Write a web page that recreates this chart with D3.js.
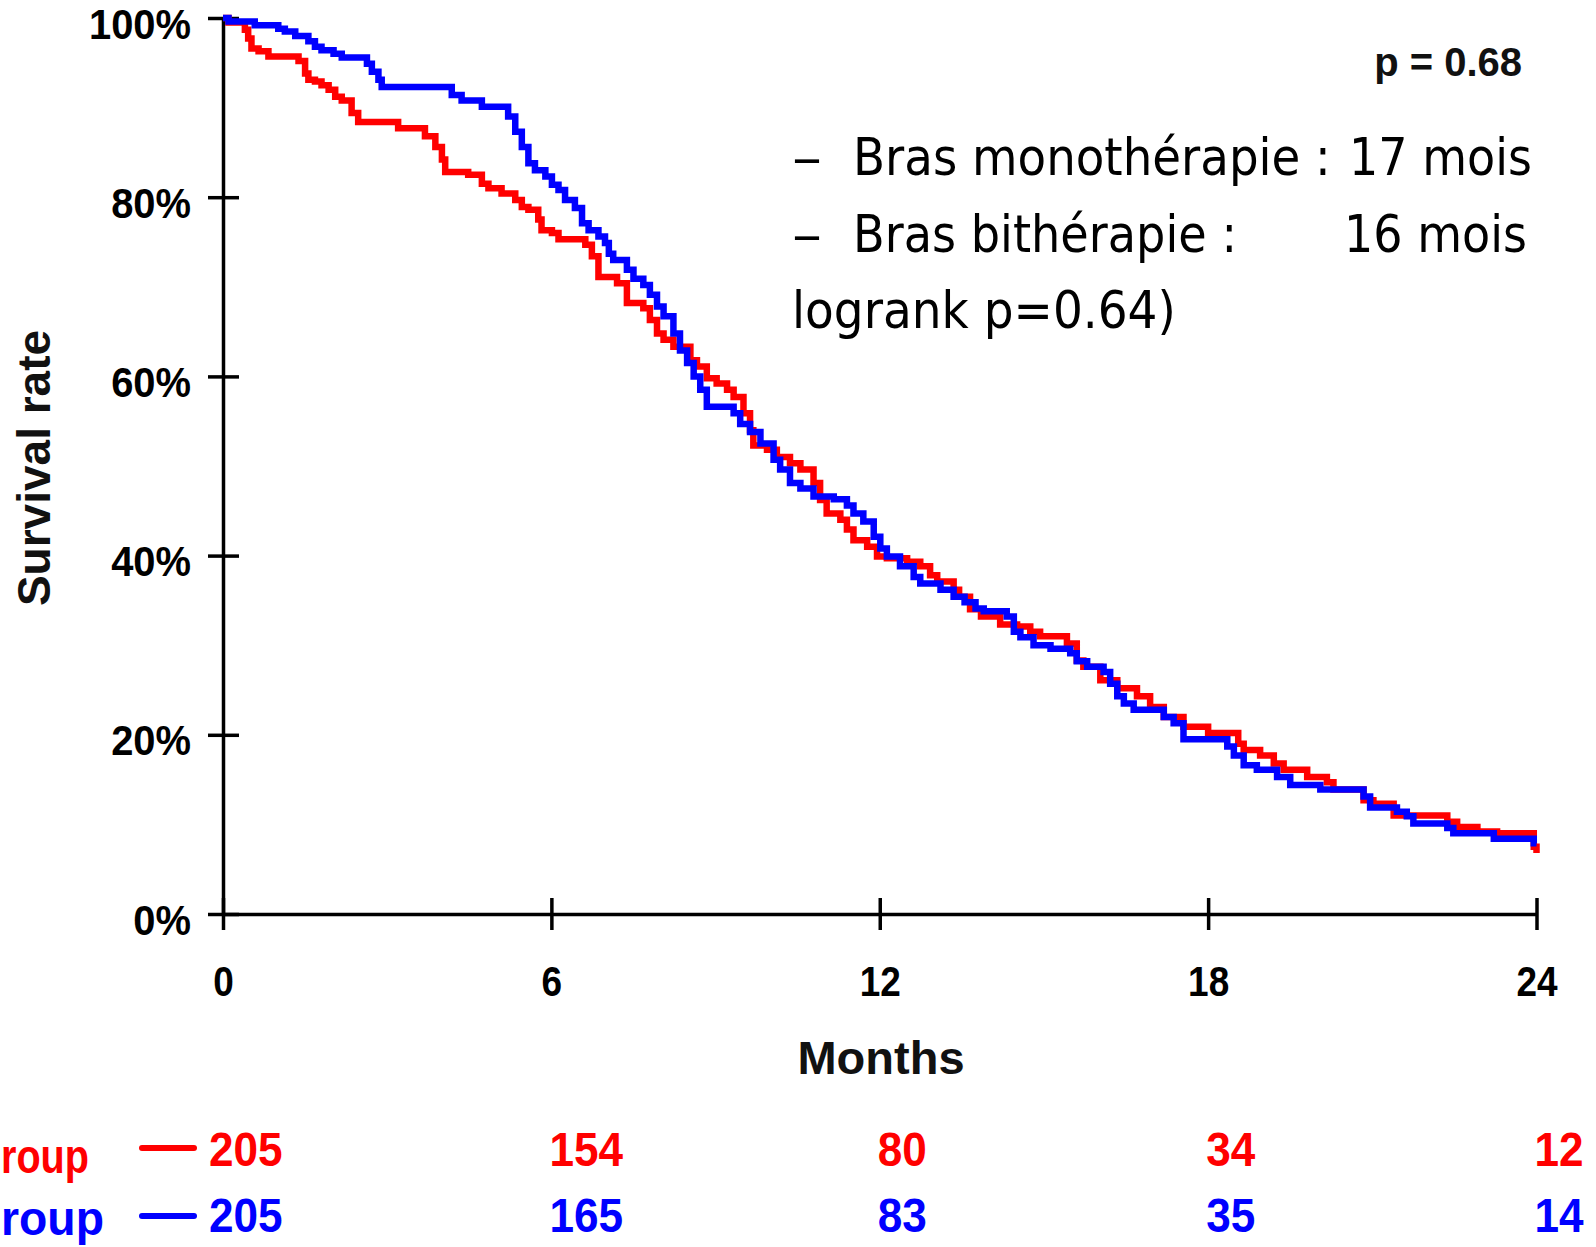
<!DOCTYPE html>
<html><head><meta charset="utf-8">
<script src="https://cdn.jsdelivr.net/npm/d3@7"></script>
<style>body{margin:0;background:#fff}svg{display:block}</style>
</head><body><svg id="c" width="1596" height="1247"></svg>
<script>
const monthTicks = [0, 6, 12, 18, 24];
const pctTicks = [0, 20, 40, 60, 80, 100];

// Kaplan-Meier steps: [month, survival %]
const redCurve = [[0,100],[0.1,99.5],[0.40,98.7],[0.46,97.7],[0.52,96.6],[0.65,96.3],[0.83,95.7],[1.38,95.2],[1.50,93.8],[1.56,93.1],[1.68,92.9],[1.80,92.5],[1.93,92.0],[2.05,91.2],[2.17,90.8],[2.35,89.4],[2.47,88.4],[3.20,87.7],[3.69,86.8],[3.88,85.6],[4.00,84.2],[4.06,82.8],[4.48,82.5],[4.73,81.5],[4.85,81.0],[5.09,80.4],[5.34,79.7],[5.46,78.9],[5.58,78.6],[5.76,77.5],[5.82,76.3],[6.01,76.0],[6.13,75.3],[6.62,74.7],[6.74,73.4],[6.86,71.1],[7.20,70.4],[7.38,68.2],[7.68,67.6],[7.80,66.3],[7.93,64.8],[8.05,64.1],[8.23,63.3],[8.54,61.8],[8.66,61.1],[8.84,59.8],[9.02,59.2],[9.21,58.5],[9.33,57.7],[9.51,55.9],[9.63,54.0],[9.69,52.3],[9.94,51.8],[10.12,51.0],[10.36,50.3],[10.55,49.6],[10.79,48.1],[10.91,46.2],[11.03,44.7],[11.28,44.0],[11.40,42.9],[11.52,41.7],[11.77,41.0],[11.95,39.9],[12.13,39.7],[12.50,39.3],[12.74,38.8],[12.92,37.8],[13.05,37.1],[13.35,36.2],[13.45,35.4],[13.65,34.0],[13.85,33.2],[14.20,32.3],[14.51,32.1],[14.75,31.5],[14.93,31.0],[15.42,30.2],[15.60,28.3],[15.72,27.6],[16.03,26.1],[16.34,25.2],[16.70,24.3],[16.94,23.1],[17.19,22.0],[17.55,20.9],[18.00,20.2],[18.55,19.0],[18.65,18.3],[18.95,17.7],[19.20,16.8],[19.38,16.1],[19.81,15.3],[20.17,14.7],[20.29,13.9],[20.84,12.7],[21.02,12.3],[21.39,11.0],[22.37,10.3],[22.55,9.7],[22.92,9.2],[23.28,9.0],[23.95,7.5],[24.0,6.8]];
const blueCurve = [[0,100],[0.1,99.6],[0.58,99.2],[1.01,98.8],[1.13,98.5],[1.32,98.0],[1.56,97.4],[1.68,96.8],[1.80,96.4],[2.02,96.0],[2.17,95.6],[2.63,94.9],[2.72,94.0],[2.84,93.1],[2.90,92.3],[4.18,91.4],[4.36,90.8],[4.73,90.1],[5.21,89.0],[5.34,87.3],[5.46,85.6],[5.58,83.8],[5.70,83.0],[5.89,82.3],[6.01,81.4],[6.13,80.8],[6.25,79.7],[6.43,78.8],[6.56,77.1],[6.68,76.3],[6.86,75.6],[6.98,74.9],[7.05,73.7],[7.13,73.0],[7.38,71.9],[7.50,70.9],[7.68,70.2],[7.80,69.1],[7.93,67.8],[8.05,66.7],[8.23,64.8],[8.35,62.9],[8.48,61.5],[8.60,60.0],[8.72,58.5],[8.84,56.6],[9.33,55.9],[9.45,54.7],[9.63,53.8],[9.82,52.5],[10.06,50.7],[10.18,49.6],[10.36,48.1],[10.55,47.5],[10.79,46.6],[11.16,46.3],[11.40,45.6],[11.52,44.7],[11.70,43.8],[11.89,42.1],[12.01,40.8],[12.13,39.9],[12.37,38.8],[12.62,37.6],[12.74,36.9],[13.11,36.2],[13.35,35.4],[13.55,34.8],[13.75,34.1],[13.90,33.8],[14.32,33.2],[14.45,31.5],[14.57,30.9],[14.81,30.0],[15.12,29.6],[15.48,29.1],[15.60,28.2],[15.79,27.6],[16.09,27.0],[16.21,25.7],[16.34,24.3],[16.46,23.5],[16.64,22.8],[17.19,22.0],[17.37,21.3],[17.55,19.5],[18.35,18.7],[18.47,17.7],[18.65,16.6],[18.89,16.1],[19.26,15.3],[19.50,14.4],[20.05,13.9],[20.84,13.1],[20.96,11.9],[21.45,11.4],[21.63,10.9],[21.75,10.1],[22.37,9.6],[22.48,9.0],[23.22,8.4],[23.95,7.9],[24.0,7.9]];

const riskMonths = [0, 6, 12, 18, 24];
const riskRed = [205, 154, 80, 34, 12];
const riskBlue = [205, 165, 83, 35, 14];
const groupLabelVisible = "roup";   // only the tail of the group names is inside the picture
const pValueText = "p = 0.68";
const xTitle = "Months";
const yTitle = "Survival rate";
const medianLine1a = "Bras monothérapie :";
const medianLine1b = "17 mois";
const medianLine2a = "Bras bithérapie :";
const medianLine2b = "16 mois";
const logrankText = "logrank p=0.64)";

const RED = "#ff0000", BLUE = "#0000ff";
const ARIAL = "'Liberation Sans', Arial, sans-serif";
const TAHOMA = "'DejaVu Sans', Verdana, sans-serif";

const svg = d3.select("#c");
svg.append("rect").attr("width", 1596).attr("height", 1247).attr("fill", "#fff");

const x = d3.scaleLinear().domain([0, 24]).range([223, 1536.5]);
const y = d3.scaleLinear().domain([0, 100]).range([914, 18]);

function squeeze(sel, k) {
  sel.each(function () {
    const w = this.getComputedTextLength();
    d3.select(this).attr("textLength", w * k).attr("lengthAdjust", "spacingAndGlyphs");
  });
}
// place a text at (px,py) and scale it horizontally to the given width
function placeFit(parent, str, px, py, w) {
  const t = parent.append("text").attr("x", 0).attr("y", 0).text(str);
  const nat = t.node().getComputedTextLength();
  t.attr("transform", `translate(${px},${py}) scale(${w / nat},1)`);
  return t;
}

// axes
const gx = svg.append("g").attr("transform", `translate(0,${y(0)})`)
  .call(d3.axisBottom(x).tickValues(monthTicks).tickSize(16).tickSizeOuter(0));
gx.attr("font-size", null).attr("font-family", null);
gx.select(".domain").attr("stroke", "#000").attr("stroke-width", 3.5);
gx.selectAll(".tick line").attr("y1", -16).attr("y2", 16).attr("stroke", "#000").attr("stroke-width", 3.5);
gx.selectAll(".tick text").attr("y", 82).attr("dy", 0)
  .attr("font-family", ARIAL).attr("font-weight", "bold").attr("font-size", 42).attr("fill", "#000")
  .call(squeeze, 0.88);

const gy = svg.append("g").attr("transform", `translate(${x(0)},0)`)
  .call(d3.axisLeft(y).tickValues(pctTicks).tickFormat(d => d + "%").tickSize(15).tickSizeOuter(0));
gy.attr("font-size", null).attr("font-family", null);
gy.select(".domain").attr("stroke", "#000").attr("stroke-width", 3.5);
gy.selectAll(".tick line").attr("x1", 16).attr("x2", -15).attr("stroke", "#000").attr("stroke-width", 3.5);
gy.selectAll(".tick text").attr("x", -32).attr("y", 20).attr("dy", 0)
  .attr("font-family", ARIAL).attr("font-weight", "bold").attr("font-size", 42).attr("fill", "#000")
  .call(squeeze, 0.95);

// curves
const line = d3.line().x(d => x(d[0])).y(d => y(d[1])).curve(d3.curveStepAfter);
svg.append("path").datum(redCurve).attr("d", line).attr("fill", "none")
  .attr("stroke", RED).attr("stroke-width", 6.5);
svg.append("path").datum(blueCurve).attr("d", line).attr("fill", "none")
  .attr("stroke", BLUE).attr("stroke-width", 6.5);

// titles
svg.append("text").attr("x", 881).attr("y", 1074).attr("text-anchor", "middle")
  .attr("font-family", ARIAL).attr("font-weight", "bold").attr("font-size", 47).attr("fill", "#111")
  .text(xTitle);
svg.append("text").attr("transform", "translate(50,468) rotate(-90)").attr("text-anchor", "middle")
  .attr("font-family", ARIAL).attr("font-weight", "bold").attr("font-size", 46).attr("fill", "#111")
  .text(yTitle);
svg.append("text").attr("x", 1522).attr("y", 76).attr("text-anchor", "end")
  .attr("font-family", ARIAL).attr("font-weight", "bold").attr("font-size", 40).attr("fill", "#111")
  .text(pValueText);

// median annotations
const ann = svg.append("g").attr("font-family", TAHOMA).attr("font-size", 52).attr("fill", "#000");
placeFit(ann, "–", 792, 175, 30);
placeFit(ann, medianLine1a, 853, 175, 478);
placeFit(ann, medianLine1b, 1349, 175, 183);
placeFit(ann, "–", 792, 252, 30);
placeFit(ann, medianLine2a, 853, 252, 384);
placeFit(ann, medianLine2b, 1344, 252, 183);
placeFit(ann, logrankText, 792, 328, 384);

// number at risk
function riskRow(values, color, base, labelWidth, labelBase, lineY) {
  const g = svg.append("g").attr("font-family", ARIAL).attr("font-weight", "bold")
    .attr("font-size", 49).attr("fill", color);
  g.selectAll("text.n").data(values).join("text").attr("class", "n")
    .attr("x", (d, i) => i === 0 ? x(riskMonths[i]) - 14 : x(riskMonths[i]) - 2)
    .attr("y", base).text(d => d).call(squeeze, 0.9);
  placeFit(g, groupLabelVisible, 1, labelBase, labelWidth);
  svg.append("line").attr("x1", 142).attr("x2", 194).attr("y1", lineY).attr("y2", lineY)
    .attr("stroke", color).attr("stroke-width", 6).attr("stroke-linecap", "round");
}
riskRow(riskRed, RED, 1166, 88, 1173, 1148);
riskRow(riskBlue, BLUE, 1232, 103, 1235, 1216);
</script></body></html>
